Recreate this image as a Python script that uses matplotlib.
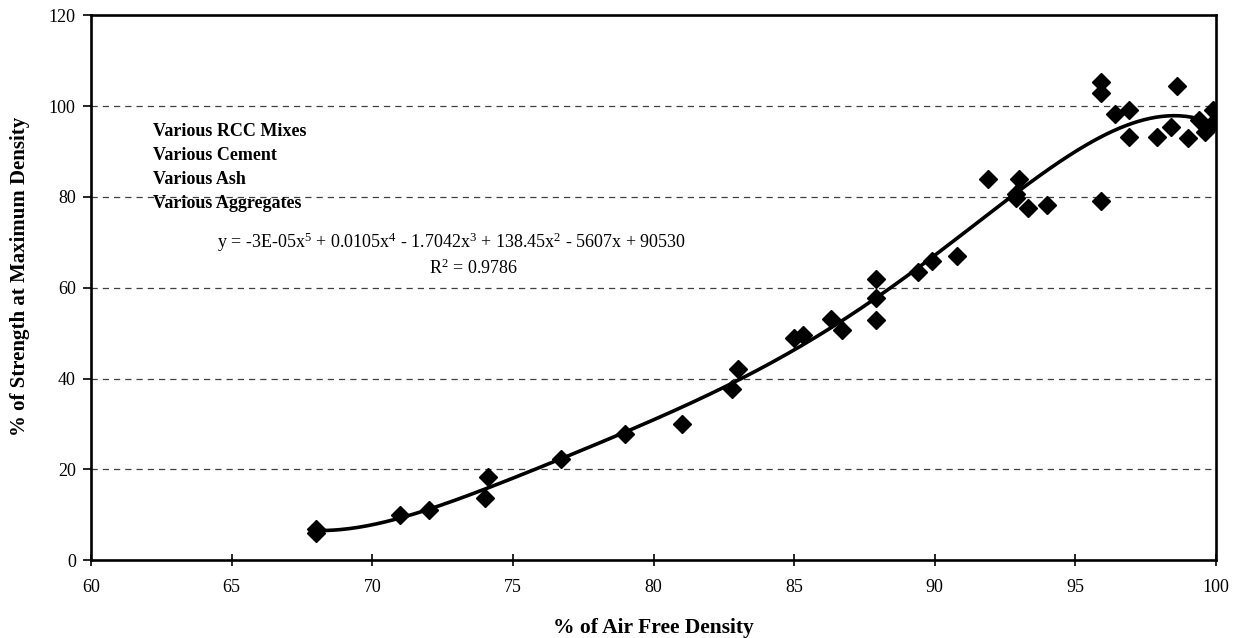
import matplotlib
matplotlib.use("Agg")
import matplotlib.pyplot as plt
import numpy as np

# ==========================
# DATOS
# ==========================

densidad = [68.0, 68.0, 71.0, 72.0, 74.0, 74.1, 76.7, 79.0, 81.0, 82.8, 83.0,
            85.0, 85.3, 86.3, 86.7, 87.9, 87.9, 87.9, 89.4, 89.9, 90.8, 91.9,
            92.9, 92.9, 93.0, 93.3, 94.0, 95.9, 95.9, 95.9, 96.4, 96.9, 96.9,
            97.9, 98.4, 98.6, 99.0, 99.4, 99.6, 99.9, 99.9]

resistencia = [6.8, 6.0, 9.9, 11.0, 13.8, 18.4, 22.2, 27.8, 29.9, 37.8, 42.1,
               48.9, 49.6, 53.2, 50.7, 61.9, 57.8, 53.0, 63.4, 65.9, 67.0, 84.0,
               80.6, 79.8, 83.9, 77.6, 78.2, 105.3, 102.9, 79.2, 98.2, 99.1, 93.2,
               93.2, 95.5, 104.5, 92.9, 96.9, 94.4, 99.1, 96.3]

notas = ["Various RCC Mixes", "Various Cement", "Various Ash", "Various Aggregates"]
ecuacion = "y = -3E-05x$^5$ + 0.0105x$^4$ - 1.7042x$^3$ + 138.45x$^2$ - 5607x + 90530"
r2 = "R$^2$ = 0.9786"

# ==========================
# FIGURA
# ==========================

plt.rcParams["font.family"] = ["Liberation Serif", "DejaVu Serif"]
plt.rcParams["mathtext.fontset"] = "custom"
plt.rcParams["mathtext.rm"] = "Liberation Serif"
plt.rcParams["mathtext.it"] = "Liberation Serif"

fig = plt.figure(figsize=(12.37, 6.38), dpi=100)
ax = fig.add_axes([0.0736, 0.122, 0.9094, 0.854])

# tendencia polinomica de grado 5
ajuste = np.polynomial.Polynomial.fit(densidad, resistencia, 5)
xs = np.linspace(68, 100, 300)
ax.plot(xs, ajuste(xs), color="black", linewidth=2.6, zorder=3)

ax.plot(densidad, resistencia, linestyle="none", marker="D",
        markersize=9, color="black", zorder=4)

ax.set_xlim(60, 100)
ax.set_ylim(0, 120)
ax.set_xticks(range(60, 101, 5))
ax.set_yticks(range(0, 121, 20))

for y in range(20, 101, 20):
    ax.axhline(y, color="0.25", linewidth=0.9, linestyle=(0, (5, 4)), zorder=1)

for lado in ["left", "bottom", "top", "right"]:
    ax.spines[lado].set_linewidth(1.9)

ax.tick_params(axis="x", direction="inout", length=9, width=1.2,
               labelsize=13, pad=9)
ax.tick_params(axis="y", direction="out", length=6, width=1.2,
               labelsize=13, pad=5)

ax.set_xlabel("% of Air Free Density", fontsize=15.5, fontweight="bold",
              labelpad=16)
ax.set_ylabel("% of Strength at Maximum Density", fontsize=15,
              fontweight="bold")
ax.yaxis.set_label_coords(-0.054, 0.52)

for i, nota in enumerate(notas):
    ax.text(62.2, 94.5 - i * 5.3, nota, fontsize=13, fontweight="bold",
            va="center", ha="left", zorder=5)

ax.text(72.8, 70.0, ecuacion, fontsize=13, ha="center", va="center")
ax.text(73.6, 64.3, r2, fontsize=13, ha="center", va="center")

fig.savefig("out.png", dpi=100)
